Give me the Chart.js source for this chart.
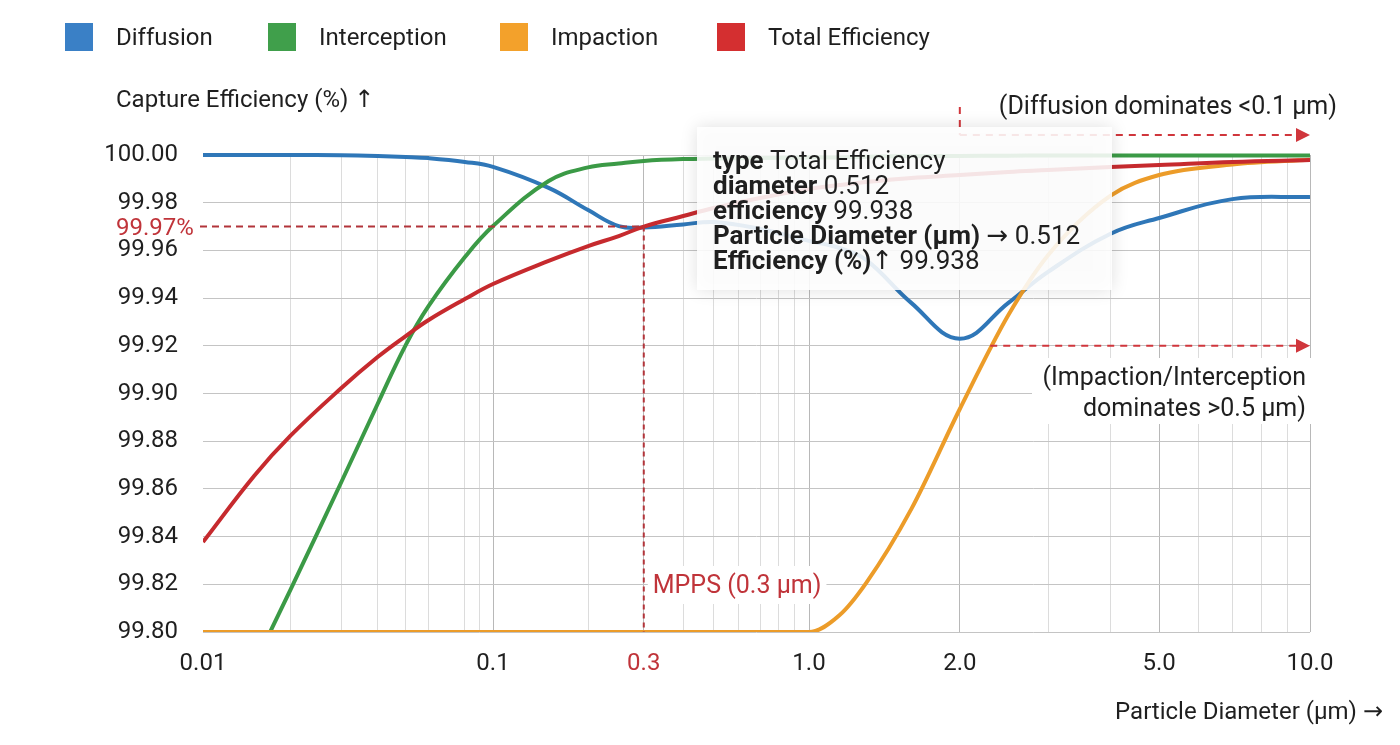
<!DOCTYPE html>
<html>
<head>
<meta charset="utf-8">
<script src="https://cdn.jsdelivr.net/npm/chart.js@4.4.1/dist/chart.umd.min.js"></script>
<style>
  html, body { margin: 0; padding: 0; background: #fff; }
  #wrap { width: 1400px; height: 745px; position: relative; }
</style>
</head>
<body>
<div id="wrap"><canvas id="chart"></canvas></div>
<script>
const diameters = [0.01, 0.015, 0.02, 0.03, 0.04, 0.05, 0.06, 0.08, 0.1,
                   0.15, 0.2, 0.25, 0.3, 0.4, 0.5, 0.7,
                   1.0, 1.15, 1.3, 1.6, 2.0, 2.5, 3, 4, 5, 7, 10];

const diffusion = [100.000, 100.000, 100.000, 99.9999, 99.9996, 99.9992, 99.9987, 99.9971, 99.9950,
                   99.9862, 99.9769, 99.9702, 99.9696, 99.9709, 99.9719, 99.9690,
                   99.964, 99.961, 99.956, 99.938, 99.923, 99.938, 99.951, 99.967, 99.9736, 99.9815, 99.9824];
const interception = [99.741, 99.786, 99.8176, 99.8629, 99.8956, 99.9203, 99.9367, 99.9572, 99.9702,
                      99.9891, 99.9948, 99.9964, 99.9975, 99.9983, 99.9985, 99.9987,
                      99.999, 99.999, 99.9993, 99.9995, 99.9996, 99.9997, 99.9998, 99.9998, 99.9998, 99.9998, 99.9998];
const impaction = [99.80, 99.80, 99.80, 99.80, 99.80, 99.80, 99.80, 99.80, 99.80,
                   99.80, 99.80, 99.80, 99.80, 99.80, 99.80, 99.80,
                   99.80, 99.807, 99.8205, 99.8515, 99.8935, 99.9329, 99.958, 99.983, 99.9916, 99.996, 99.998];
const totalEfficiency = [99.8377, 99.8654, 99.8822, 99.9023, 99.9153, 99.9241, 99.9308, 99.9396, 99.9459,
                         99.9556, 99.9618, 99.9660, 99.9700, 99.9744, 99.9778, 99.9820,
                         99.9857, 99.9874, 99.9887, 99.9904, 99.9916, 99.9929, 99.9937, 99.995, 99.9958, 99.9971, 99.9979];

const seriesNames = ['Diffusion', 'Interception', 'Impaction', 'Total Efficiency'];

// x axis: labelled ticks and the extra grid lines
const xLabelValues = [0.01, 0.1, 0.3, 1, 2, 5, 10];
const xLabelTexts = ['0.01', '0.1', '0.3', '1.0', '2.0', '5.0', '10.0'];
const xMinorValues = [0.02, 0.03, 0.04, 0.05, 0.06, 0.08, 0.09,
                      0.2, 0.4, 0.5, 0.6, 0.7, 0.8, 0.9,
                      3, 4, 6, 7, 8, 9];
const yMin = 99.80, yMax = 100.00, yStep = 0.02;

// annotation values
const mppsDiameter = 0.3;
const mppsEfficiency = 99.97;
const diffusionMarker = 2.0;
const impactionArrowStart = 2.3;
const impactionArrowLevel = 99.92;

const tooltipRows = [
    ['type', ' Total Efficiency'],
    ['diameter', ' 0.512'],
    ['efficiency', ' 99.938'],
    ['Particle Diameter (µm)', ' → 0.512'],
    ['Efficiency (%)', '↑ 99.938']
];

// the picture's log axis gives each decade its own width
const decadeAnchors = [0.01, 0.1, 1, 10];
const decadeWidths = [290, 316, 501];

function valueToDecimal(v) {
    const total = decadeWidths.reduce((a, b) => a + b, 0);
    let cum = 0;
    for (let i = 0; i < decadeWidths.length; i++) {
        if (v <= decadeAnchors[i + 1] || i === decadeWidths.length - 1) {
            return (cum + decadeWidths[i] * Math.log10(v / decadeAnchors[i])) / total;
        }
        cum += decadeWidths[i];
    }
    return 1;
}

function decimalToValue(d) {
    const total = decadeWidths.reduce((a, b) => a + b, 0);
    let pos = d * total;
    for (let i = 0; i < decadeWidths.length; i++) {
        if (pos <= decadeWidths[i] || i === decadeWidths.length - 1) {
            return decadeAnchors[i] * Math.pow(10, pos / decadeWidths[i]);
        }
        pos -= decadeWidths[i];
    }
    return decadeAnchors[decadeAnchors.length - 1];
}

class StretchedLogScale extends Chart.LinearScale {
    static id = 'stretchedLog';
    static defaults = {};

    buildTicks() {
        this.start = this.min;
        this.end = this.max;
        return [...xLabelValues, ...xMinorValues].sort((a, b) => a - b).map(v => ({ value: v }));
    }

    getPixelForValue(value) {
        return this.getPixelForDecimal(valueToDecimal(value));
    }

    getValueForPixel(pixel) {
        return decimalToValue(this.getDecimalForPixel(pixel));
    }
}
Chart.register(StretchedLogScale);

const FONT = 'Roboto, "Noto Sans", sans-serif';
const ARROW_FONT = '"DejaVu Sans", sans-serif';
const TEXT = '#1f1f1f';
const RED = '#c0343a';
const lineColors = ['#2f77b8', '#3b9a46', '#ec9c29', '#c62a2e'];
const legendColors = ['#3a80c6', '#409f4b', '#f3a12b', '#d42f30'];

function makeSeries(i, values, order, monotone) {
    return {
        label: seriesNames[i],
        data: diameters.map((d, k) => ({ x: d, y: values[k] })),
        borderColor: lineColors[i],
        backgroundColor: lineColors[i],
        borderWidth: 4,
        pointRadius: 0,
        tension: 0.4,
        cubicInterpolationMode: monotone ? 'monotone' : 'default',
        order: order,
        clip: { left: 0, right: 0, top: 5, bottom: 0 }
    };
}

function dashedLine(ctx, x1, y1, x2, y2) {
    ctx.beginPath();
    ctx.moveTo(x1, y1);
    ctx.lineTo(x2, y2);
    ctx.stroke();
}

function arrowHead(ctx, x, y) {
    ctx.beginPath();
    ctx.moveTo(x, y);
    ctx.lineTo(x - 14, y - 7);
    ctx.lineTo(x - 14, y + 7);
    ctx.closePath();
    ctx.fill();
}

// draws text left-aligned, arrows in a font with a full-size arrow glyph
function drawMixed(ctx, text, x, y, font) {
    let cx = x;
    text.split(/([→↑])/).forEach(part => {
        if (!part) return;
        ctx.font = /[→↑]/.test(part) ? font.replace(FONT, ARROW_FONT) : font;
        ctx.fillText(part, cx, y);
        cx += ctx.measureText(part).width;
    });
    return cx - x;
}

function measureMixed(ctx, text, font) {
    let w = 0;
    text.split(/([→↑])/).forEach(part => {
        if (!part) return;
        ctx.font = /[→↑]/.test(part) ? font.replace(FONT, ARROW_FONT) : font;
        w += ctx.measureText(part).width;
    });
    return w;
}

const customLegend = {
    id: 'customLegend',
    afterDraw(chart) {
        const ctx = chart.ctx;
        const xs = [65, 268, 500, 717];
        ctx.save();
        ctx.font = '24px ' + FONT;
        ctx.textBaseline = 'middle';
        seriesNames.forEach((name, i) => {
            ctx.fillStyle = legendColors[i];
            ctx.fillRect(xs[i], 23, 28, 28);
            ctx.fillStyle = TEXT;
            ctx.fillText(name, xs[i] + 51, 39);
        });
        // axis titles
        ctx.fillStyle = TEXT;
        const f = '24px ' + FONT;
        drawMixed(ctx, 'Capture Efficiency (%) ↑', 116, 101, f);
        const xt = 'Particle Diameter (µm) →';
        drawMixed(ctx, xt, 1383 - measureMixed(ctx, xt, f), 713, f);
        ctx.restore();
    }
};

const annotations = {
    id: 'annotations',
    afterDatasetsDraw(chart) {
        const { ctx, chartArea, scales: { x, y } } = chart;
        ctx.save();

        // MPPS reference lines
        const mx = x.getPixelForValue(mppsDiameter);
        const my = y.getPixelForValue(mppsEfficiency);
        ctx.strokeStyle = '#b2343a';
        ctx.lineWidth = 2;
        ctx.setLineDash([7, 5]);
        dashedLine(ctx, 200, my, mx, my);
        ctx.setLineDash([5, 4]);
        dashedLine(ctx, mx, my, mx, chartArea.bottom);

        // diffusion arrow above the plot
        const dx = x.getPixelForValue(diffusionMarker);
        const ay = chartArea.top - 20;
        ctx.strokeStyle = '#d0363c';
        ctx.fillStyle = '#d0363c';
        ctx.setLineDash([7, 6]);
        dashedLine(ctx, dx, ay - 28, dx, ay);
        dashedLine(ctx, dx, ay, chartArea.right - 12, ay);
        arrowHead(ctx, chartArea.right, ay);

        // impaction arrow
        const iy = y.getPixelForValue(impactionArrowLevel);
        dashedLine(ctx, x.getPixelForValue(impactionArrowStart), iy, chartArea.right - 12, iy);
        arrowHead(ctx, chartArea.right, iy);
        ctx.setLineDash([]);

        // tooltip-like box
        ctx.save();
        ctx.shadowColor = 'rgba(0,0,0,0.14)';
        ctx.shadowBlur = 16;
        ctx.fillStyle = 'rgba(255,255,255,0.88)';
        ctx.fillRect(697, 127, 415, 163);
        ctx.restore();

        ctx.textBaseline = 'middle';
        ctx.fillStyle = TEXT;
        tooltipRows.forEach((row, i) => {
            const ty = 162 + i * 25;
            ctx.font = 'bold 26px ' + FONT;
            ctx.fillText(row[0], 713, ty);
            const w = ctx.measureText(row[0]).width;
            drawMixed(ctx, row[1], 713 + w, ty, '26px ' + FONT);
        });

        // text labels
        ctx.font = '24px ' + FONT;
        ctx.fillStyle = RED;
        ctx.fillText('99.97%', 116, my + 2);

        ctx.font = '25px ' + FONT;
        const mppsText = 'MPPS (' + mppsDiameter + ' µm)';
        const mw = ctx.measureText(mppsText).width;
        ctx.fillStyle = '#fff';
        ctx.fillRect(mx + 4, 566, mw + 10, 38);
        ctx.fillStyle = RED;
        ctx.fillText(mppsText, mx + 9, 587);

        ctx.fillStyle = TEXT;
        ctx.textAlign = 'right';
        ctx.fillText('(Diffusion dominates <0.1 µm)', 1337, 108);

        ctx.fillStyle = '#fff';
        ctx.fillRect(1032, 358, 280, 66);
        ctx.fillStyle = TEXT;
        ctx.fillText('(Impaction/Interception', 1306, 379);
        ctx.fillText('dominates >0.5 µm)', 1306, 410);
        ctx.restore();
    }
};

new Chart(document.getElementById('chart'), {
    type: 'line',
    data: {
        datasets: [
            makeSeries(0, diffusion, 3, false),
            makeSeries(1, interception, 2, false),
            makeSeries(2, impaction, 1, true),
            makeSeries(3, totalEfficiency, 0, false)
        ]
    },
    options: {
        responsive: true,
        maintainAspectRatio: false,
        animation: false,
        events: [],
        layout: { padding: { top: 155, right: 90, left: 0, bottom: 0 } },
        plugins: {
            legend: { display: false },
            tooltip: { enabled: false }
        },
        scales: {
            x: {
                type: 'stretchedLog',
                min: 0.01,
                max: 10,
                afterFit: s => { s.height = 113; },
                border: { display: false },
                grid: {
                    drawTicks: false,
                    lineWidth: 1,
                    color: c => {
                        const v = c.tick ? c.tick.value : null;
                        if (v === 0.01) return 'rgba(0,0,0,0)';
                        return xLabelValues.includes(v) ? '#b8b8b8' : '#dcdcdc';
                    }
                },
                ticks: {
                    autoSkip: false,
                    maxRotation: 0,
                    padding: 18,
                    font: { family: FONT, size: 24 },
                    color: c => (c.tick && c.tick.value === mppsDiameter ? RED : TEXT),
                    callback: v => {
                        const i = xLabelValues.indexOf(v);
                        return i >= 0 ? xLabelTexts[i] : '';
                    }
                }
            },
            y: {
                type: 'linear',
                min: yMin,
                max: yMax,
                afterFit: s => { s.width = 203; },
                border: { display: false },
                grid: { drawTicks: false, color: '#c4c4c4', lineWidth: 1 },
                ticks: {
                    stepSize: yStep,
                    padding: 25,
                    font: { family: FONT, size: 24 },
                    color: TEXT,
                    callback: v => Number(v).toFixed(2)
                }
            }
        }
    },
    plugins: [customLegend, annotations]
});
</script>
</body>
</html>
